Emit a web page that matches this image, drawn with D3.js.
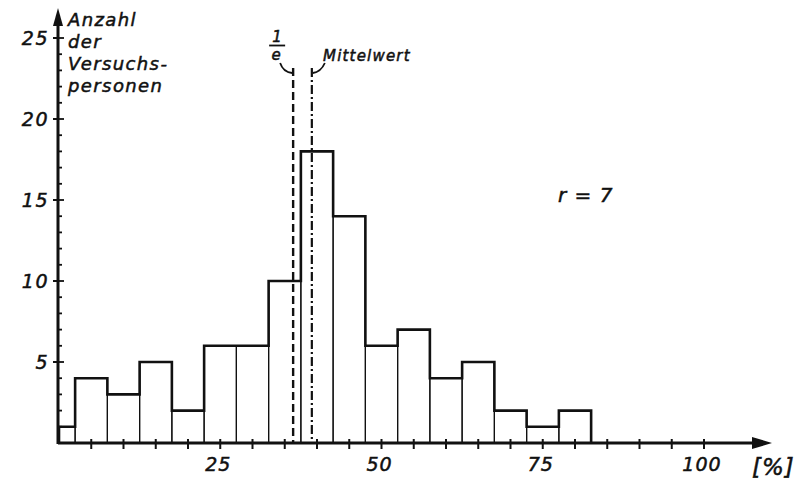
<!DOCTYPE html>
<html>
<head>
<meta charset="utf-8">
<script src="https://cdn.jsdelivr.net/npm/d3@7"></script>
<style>
  body { margin: 0; background: #fff; }
  svg text { font-family: "DejaVu Sans", sans-serif; font-style: italic; fill: #111; stroke: #111; stroke-width: 0.5px; }
</style>
</head>
<body>
<svg id="chart" width="798" height="480"></svg>
<script>
// histogram data (percent bins, number of subjects)
var binStarts = [0, 2.5, 7.5, 12.5, 17.5, 22.5, 27.5, 32.5, 37.5, 42.5, 47.5, 52.5, 57.5, 62.5, 67.5, 72.5, 77.5];
var binEnds   = [2.5, 7.5, 12.5, 17.5, 22.5, 27.5, 32.5, 37.5, 42.5, 47.5, 52.5, 57.5, 62.5, 67.5, 72.5, 77.5, 82.5];
var counts    = [1, 4, 3, 5, 2, 6, 6, 10, 18, 14, 6, 7, 4, 5, 2, 1, 2];

var xTickValues = [5, 10, 15, 20, 25, 30, 35, 40, 45, 50, 55, 60, 65, 70, 75, 80, 85, 90, 95, 100];
var xTickLabels = [25, 50, 75, 100];
var yTickLabels = [5, 10, 15, 20, 25];
var yMinorTicks = d3.range(1, 26);

var eLine = 36.3;      // 1/e
var meanLine = 39.2;   // Mittelwert

var svg = d3.select('#chart');

var x = d3.scaleLinear().domain([0, 100]).range([59, 704]);
var y = d3.scaleLinear().domain([0, 25]).range([443, 38]);

//thin bin rectangles
svg.selectAll('rect.bin')
    .data(counts)
    .enter()
    .append('rect')
    .attr('class', 'bin')
    .attr('x', function(d, i) { return x(binStarts[i]); })
    .attr('y', function(d) { return y(d); })
    .attr('width', function(d, i) { return x(binEnds[i]) - x(binStarts[i]); })
    .attr('height', function(d) { return y(0) - y(d); })
    .attr('fill', 'none')
    .attr('stroke', '#111')
    .attr('stroke-width', 1.2);

//thick outline (step)
var pts = [[binStarts[0], 0]];
counts.forEach(function(c, i) {
    pts.push([binStarts[i], c]);
    pts.push([binEnds[i], c]);
});
pts.push([binEnds[binEnds.length - 1], 0]);

svg.append('path')
    .attr('d', d3.line().x(function(p) { return x(p[0]); }).y(function(p) { return y(p[1]); })(pts))
    .attr('fill', 'none')
    .attr('stroke', '#111')
    .attr('stroke-width', 2.6)
    .attr('stroke-linejoin', 'miter');

// 1/e and mean lines
svg.append('line')
    .attr('x1', x(eLine)).attr('x2', x(eLine))
    .attr('y1', 68).attr('y2', y(0))
    .attr('stroke', '#111').attr('stroke-width', 2.4)
    .attr('stroke-dasharray', '8,4');

svg.append('line')
    .attr('x1', x(meanLine)).attr('x2', x(meanLine))
    .attr('y1', 68).attr('y2', y(0))
    .attr('stroke', '#111').attr('stroke-width', 2.2)
    .attr('stroke-dasharray', '9,3,2,3');

// little hooks from the labels to the lines
svg.append('path')
    .attr('d', 'M' + (x(eLine) - 13) + ',63 Q' + (x(eLine) - 10) + ',72 ' + (x(eLine) - 1) + ',73')
    .attr('fill', 'none').attr('stroke', '#111').attr('stroke-width', 1.8);
svg.append('path')
    .attr('d', 'M' + (x(meanLine) + 13) + ',63 Q' + (x(meanLine) + 9) + ',72 ' + (x(meanLine) + 1) + ',73')
    .attr('fill', 'none').attr('stroke', '#111').attr('stroke-width', 1.8);

// fraction 1/e
svg.append('text').attr('x', x(eLine) - 16).attr('y', 42)
    .attr('text-anchor', 'middle').style('font-size', '15px').text('1');
svg.append('line')
    .attr('x1', x(eLine) - 24).attr('x2', x(eLine) - 8)
    .attr('y1', 45.5).attr('y2', 45.5)
    .attr('stroke', '#111').attr('stroke-width', 1.8);
svg.append('text').attr('x', x(eLine) - 17).attr('y', 60)
    .attr('text-anchor', 'middle').style('font-size', '15px').text('e');

svg.append('text').attr('x', 323).attr('y', 61)
    .style('font-size', '15px').style('letter-spacing', '1.2px').text('Mittelwert');

// axes
var axisX0 = 58;

svg.append('line')
    .attr('x1', axisX0).attr('x2', 762)
    .attr('y1', y(0)).attr('y2', y(0))
    .attr('stroke', '#111').attr('stroke-width', 3);
svg.append('path')
    .attr('d', 'M772,' + y(0) + ' L752,' + (y(0) - 6) + ' L752,' + (y(0) + 6) + 'Z')
    .attr('fill', '#111');

svg.append('line')
    .attr('x1', axisX0).attr('x2', axisX0)
    .attr('y1', y(0) + 1).attr('y2', 20)
    .attr('stroke', '#111').attr('stroke-width', 3);
svg.append('path')
    .attr('d', 'M' + axisX0 + ',8 L' + (axisX0 - 5) + ',26 L' + (axisX0 + 5) + ',26Z')
    .attr('fill', '#111');

// x ticks
svg.selectAll('line.xtick')
    .data(xTickValues)
    .enter()
    .append('line')
    .attr('class', 'xtick')
    .attr('x1', function(d) { return x(d); })
    .attr('x2', function(d) { return x(d); })
    .attr('y1', y(0) - 4)
    .attr('y2', y(0) + 6)
    .attr('stroke', '#111')
    .attr('stroke-width', 2);

svg.selectAll('text.xlabel')
    .data(xTickLabels)
    .enter()
    .append('text')
    .attr('class', 'xlabel')
    .attr('x', function(d) { return x(d) - 2; })
    .attr('y', 471)
    .attr('text-anchor', 'middle')
    .style('font-size', '19px')
    .style('letter-spacing', '1px')
    .text(function(d) { return d; });

svg.append('text').attr('x', 752).attr('y', 475)
    .style('font-size', '23px').style('letter-spacing', '1px').text('[%]');

// y ticks
svg.selectAll('line.yminor')
    .data(yMinorTicks)
    .enter()
    .append('line')
    .attr('class', 'yminor')
    .attr('x1', axisX0)
    .attr('x2', function(d) { return d % 5 === 0 ? axisX0 + 6 : axisX0 + 4; })
    .attr('y1', function(d) { return y(d); })
    .attr('y2', function(d) { return y(d); })
    .attr('stroke', '#111')
    .attr('stroke-width', 1.8);

svg.selectAll('line.ymajor')
    .data(yTickLabels)
    .enter()
    .append('line')
    .attr('class', 'ymajor')
    .attr('x1', axisX0 - 5)
    .attr('x2', axisX0)
    .attr('y1', function(d) { return y(d); })
    .attr('y2', function(d) { return y(d); })
    .attr('stroke', '#111')
    .attr('stroke-width', 2);

svg.selectAll('text.ylabel')
    .data(yTickLabels)
    .enter()
    .append('text')
    .attr('class', 'ylabel')
    .attr('x', 49)
    .attr('y', function(d) { return y(d) + 7; })
    .attr('text-anchor', 'end')
    .style('font-size', '19px')
    .style('letter-spacing', '1.5px')
    .text(function(d) { return d; });

// y axis title
var titleLines = ['Anzahl', 'der', 'Versuchs-', 'personen'];
svg.selectAll('text.ytitle')
    .data(titleLines)
    .enter()
    .append('text')
    .attr('class', 'ytitle')
    .attr('x', 68)
    .attr('y', function(d, i) { return 26 + i * 22; })
    .style('font-size', '18px')
    .style('letter-spacing', '1.4px')
    .text(function(d) { return d; });

svg.append('text').attr('x', 558).attr('y', 202)
    .style('font-size', '20px').style('letter-spacing', '1px').text('r = 7');
</script>
</body>
</html>
